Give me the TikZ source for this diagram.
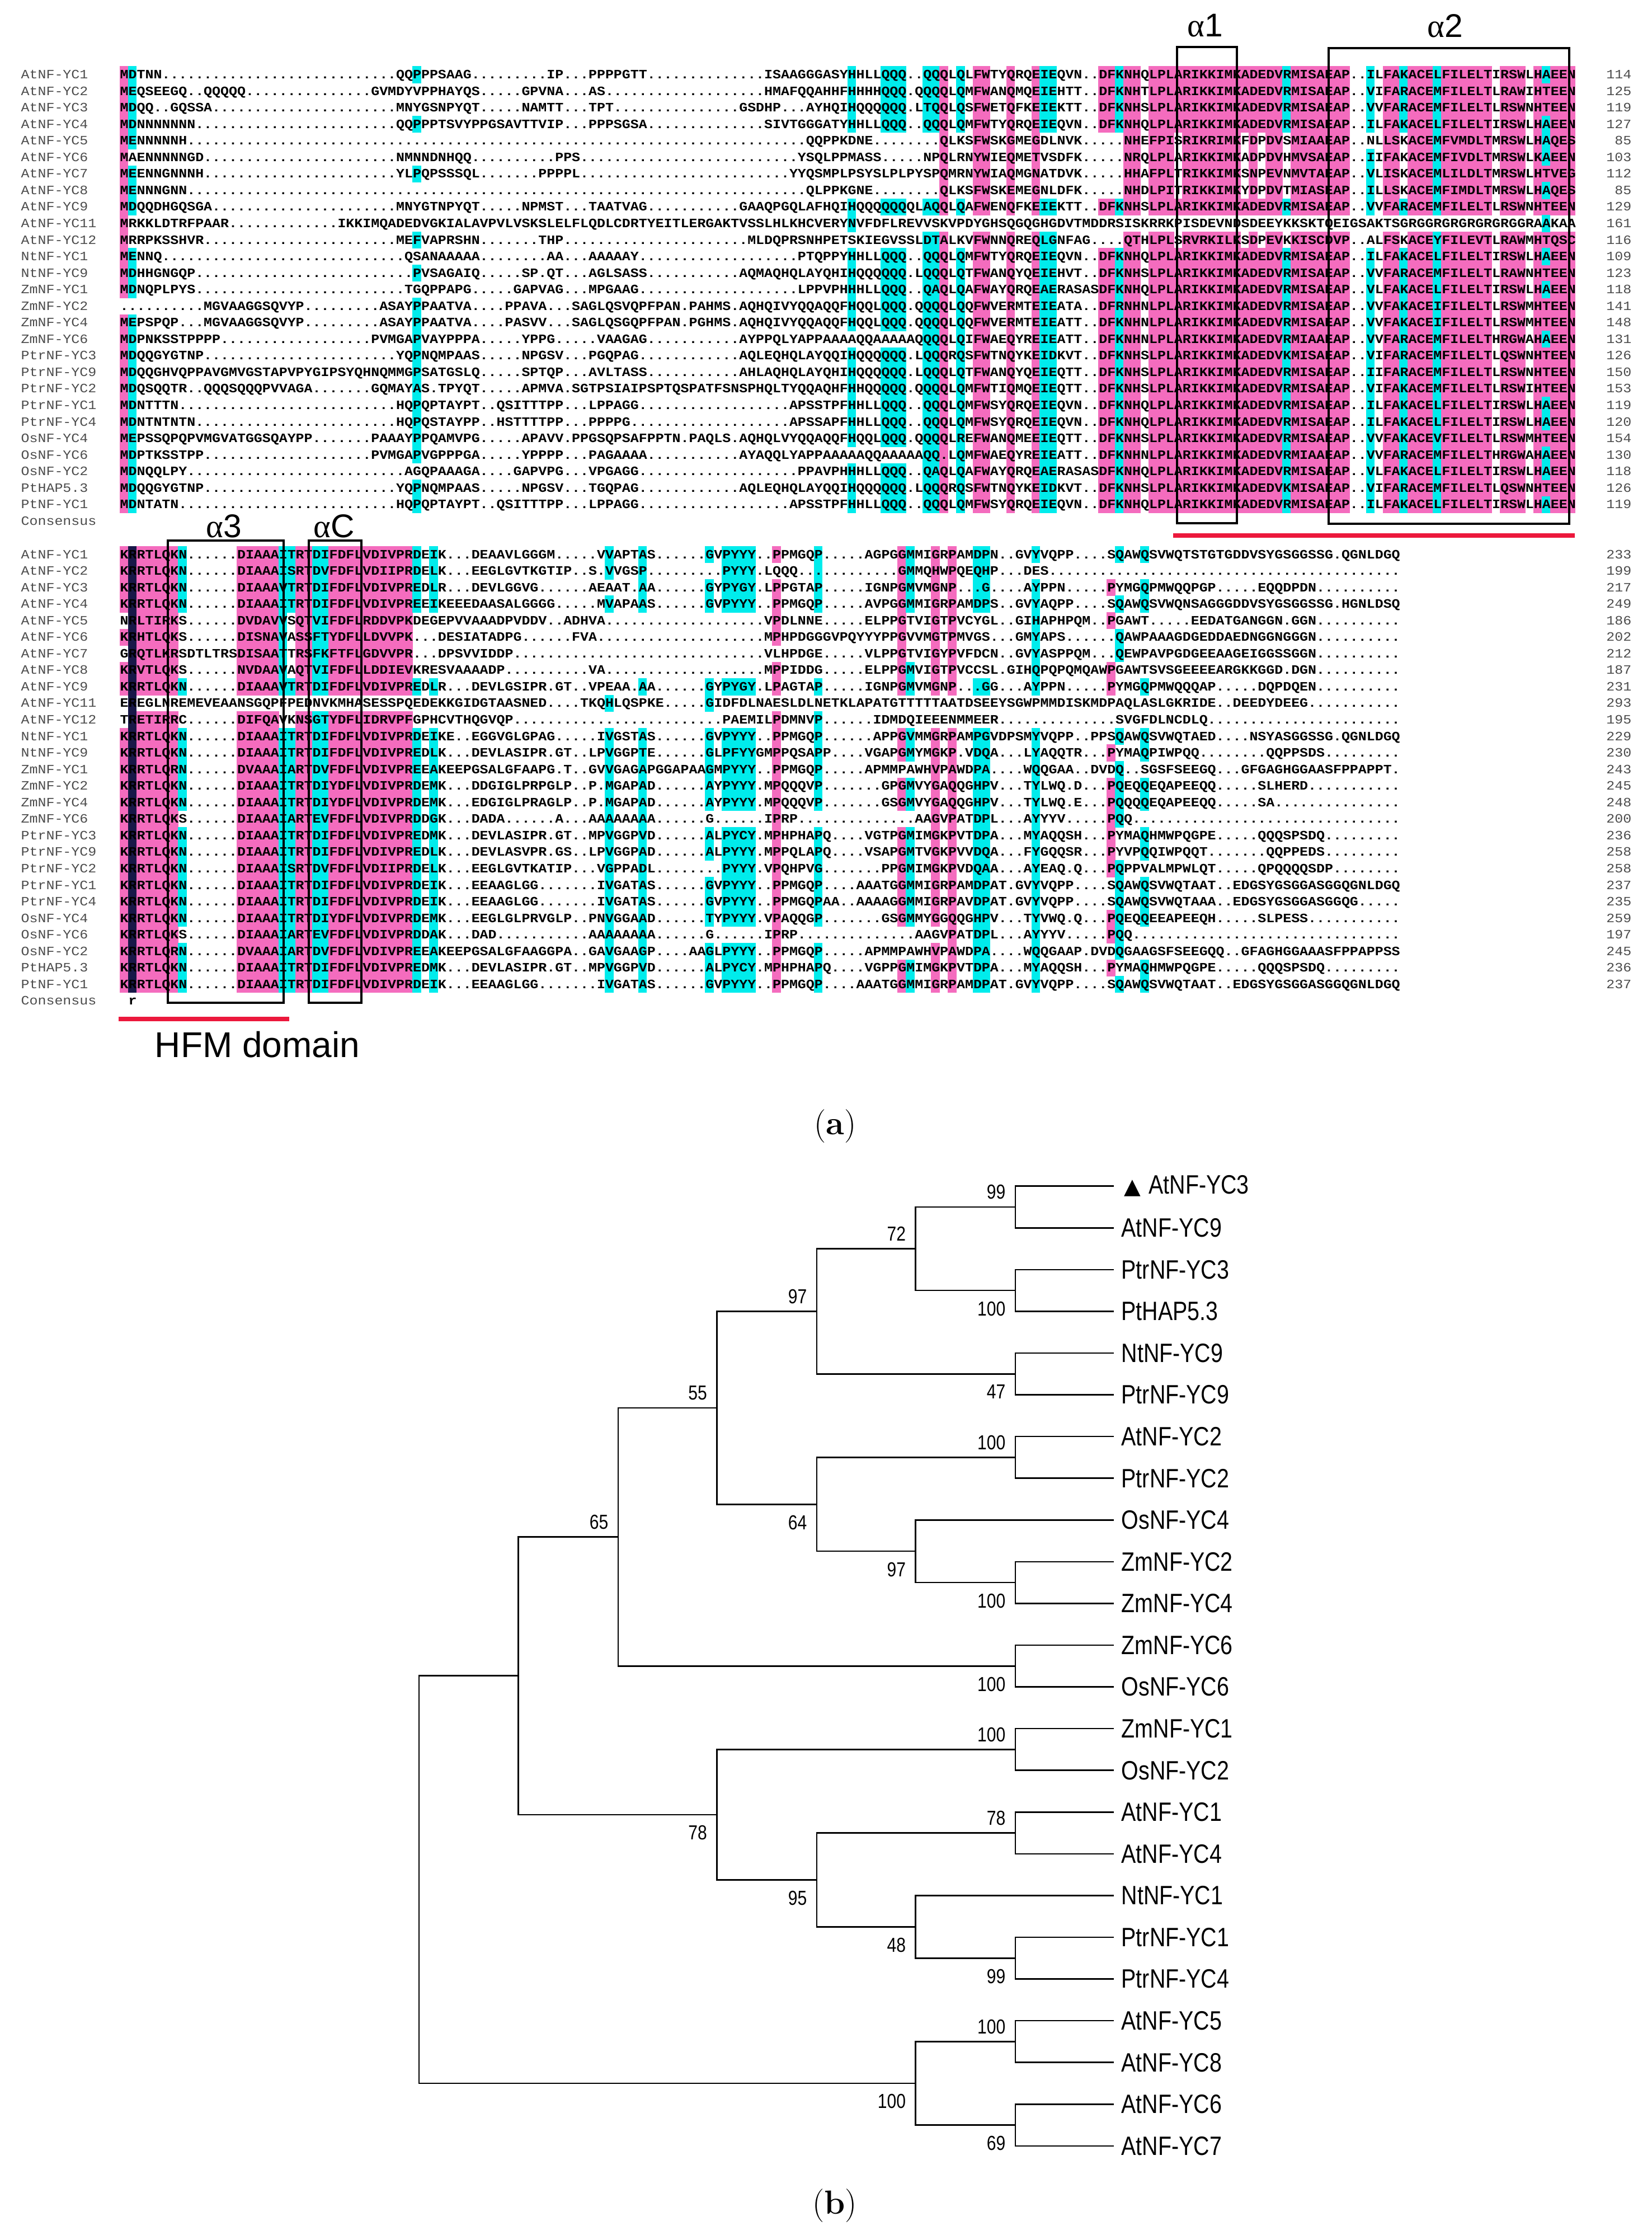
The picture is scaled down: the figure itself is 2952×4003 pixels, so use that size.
\documentclass[tikz,border=0pt]{standalone}
\usepackage{fontspec}
\usepackage{tikz}

\newfontfamily\seqfont[FakeStretch=1.091]{Liberation Mono}
\newfontfamily\labfont[FakeStretch=0.83]{Liberation Sans}
\newfontfamily\helvfont{Liberation Sans}
\newfontfamily\grkfont{Liberation Serif}
\newfontfamily\trifont{DejaVu Sans}

\definecolor{hlpink}{RGB}{244,108,190}
\definecolor{hlcyan}{RGB}{0,236,236}
\definecolor{hlnavy}{RGB}{24,24,72}
\definecolor{domred}{RGB}{236,24,60}

% one row of an alignment: pieces col/text, the gaps are filled with dots
\ExplSyntaxOn
\int_new:N \l_aln_col_int
\tl_new:N \l_aln_seq_tl
\cs_new_protected:Npn \aln_piece:w #1 / #2 \q_stop
  {
    \tl_put_right:Nx \l_aln_seq_tl
      { \prg_replicate:nn { \int_max:nn { 0 } { #1 - \l_aln_col_int } } { . } }
    \tl_put_right:Nn \l_aln_seq_tl { #2 }
    \int_set:Nn \l_aln_col_int { \int_max:nn { #1 } { \l_aln_col_int } + \str_count:n { #2 } }
  }
\NewDocumentCommand \AlnSeq { m m }
  {
    \tl_clear:N \l_aln_seq_tl
    \int_zero:N \l_aln_col_int
    \clist_map_inline:nn { #2 } { \aln_piece:w ##1 \q_stop }
    \tl_put_right:Nx \l_aln_seq_tl
      { \prg_replicate:nn { \int_max:nn { 0 } { #1 - \l_aln_col_int } } { . } }
    \tl_use:N \l_aln_seq_tl
  }
\ExplSyntaxOff

\def\colw{14.953}
\def\xseq{214}
\def\rowh{29.55}
\def\rowsA{0/8,10/26}
\def\rowsM{0/3,8/8,11/26}

\tikzset{
  seq text/.style={anchor=base west, inner sep=0pt, font=\seqfont\bfseries\fontsize{6.5pt}{7pt}\selectfont},
  seq name/.style={anchor=base west, inner sep=0pt, text=black!70, font=\seqfont\fontsize{6.5pt}{7pt}\selectfont},
  seq num/.style={anchor=base east, inner sep=0pt, text=black!70, font=\seqfont\fontsize{6.5pt}{7pt}\selectfont},
  helix box/.style={draw=black, line width=0.38mm},
  helix label/.style={inner sep=0pt, font=\helvfont\fontsize{16.7pt}{18pt}\selectfont},
  domain line/.style={draw=domred, line width=0.75mm},
  branch/.style={draw=black, line width=0.25mm},
  leaf/.style={anchor=west, inner xsep=1.3mm, inner ysep=0pt, font=\labfont\fontsize{13.5pt}{14pt}\selectfont},
  boot/.style={inner sep=0pt, font=\labfont\fontsize{10.3pt}{11pt}\selectfont},
  boot above/.style={boot, anchor=south east, xshift=-1.7mm, yshift=1.3mm},
  boot below/.style={boot, anchor=north east, xshift=-1.7mm, yshift=-1.9mm},
  panel tag/.style={inner sep=0pt, font=\fontsize{17pt}{19pt}\selectfont}
}

\def\HL#1#2#3#4#5{%
  \fill[#1] ({\xseq+#2*\colw-0.4},{\blocky+(#4-0.5)*\rowh-0.4}) rectangle ({\xseq+(#3+1)*\colw+0.4},{\blocky+(#5+0.5)*\rowh+0.4});
}
\def\HLr#1#2#3#4{%
  \edef\hlrows{#4}%
  \foreach \ra/\rb in \hlrows {\HL{#1}{#2}{#3}{\ra}{\rb}}
}
\def\Seq#1#2#3#4{%
  \node[seq name] (lab\blk#1) at (37,{\blocky+#1*\rowh+7}) {#2};
  \node[seq text] (seq\blk#1) at (\xseq,{\blocky+#1*\rowh+7}) {\AlnSeq{\ncols}{#3}};
  \node[seq num] (num\blk#1) at (2917,{\blocky+#1*\rowh+7}) {#4};
}
\def\Fork#1#2#3{\coordinate (#1) at (#2,{2119.7+#3*74.57});}
\def\Leaf#1#2#3{\node[leaf] (#1) at (1991,{2119.7+#2*74.57}) {#3};}

\begin{document}
\begin{tikzpicture}[x=0.1mm,y=-0.1mm]
\useasboundingbox (0,0) rectangle (2952,4003);

%% (a) first block
\def\blocky{133.5}\def\blk{A}\def\ncols{174}
\HLr{hlpink}{0}{0}{0/13,15/26}
\HLr{hlcyan}{1}{1}{0/4,6/8,11/13,15/26}
\HLr{hlcyan}{35}{35}{0/0,3/3,6/6,10/10,12/12,14/23,25/26}
\HLr{hlcyan}{87}{87}{0/3,8/9,11/15,17/22,24/26}
\HLr{hlcyan}{91}{93}{0/3,8/8,11/15,17/22,24/26}
\HLr{hlcyan}{96}{97}{0/3,8/8,10/26}
\HLr{hlpink}{98}{98}{\rowsA}
\HLr{hlcyan}{100}{100}{\rowsM}
\HLr{hlpink}{102}{103}{\rowsA}
\HLr{hlpink}{106}{106}{\rowsA}
\HLr{hlpink}{109}{109}{\rowsA}
\HLr{hlcyan}{110}{111}{0/3,8/8,10/26}
\HLr{hlpink}{117}{118}{\rowsM}
\HLr{hlcyan}{119}{119}{\rowsM}
\HLr{hlpink}{120}{121}{\rowsA}
\HLr{hlpink}{123}{125}{\rowsA}
\HLr{hlpink}{126}{126}{\rowsM}
\HLr{hlpink}{127}{133}{\rowsA}
\HLr{hlpink}{134}{134}{\rowsM}
\HLr{hlpink}{135}{135}{\rowsA}
\HLr{hlpink}{136}{136}{\rowsM}
\HLr{hlpink}{137}{138}{\rowsA}
\HLr{hlcyan}{139}{139}{\rowsM}
\HLr{hlpink}{140}{146}{\rowsA}
\HLr{hlcyan}{149}{149}{0/3,5/8,11/26}
\HLr{hlpink}{151}{152}{\rowsA}
\HLr{hlcyan}{153}{153}{\rowsM}
\HLr{hlpink}{154}{156}{\rowsA}
\HLr{hlcyan}{157}{157}{\rowsA}
\HLr{hlpink}{158}{163}{\rowsA}
\HLr{hlpink}{165}{167}{\rowsA}
\HLr{hlpink}{169}{173}{\rowsA}
\HLr{hlcyan}{170}{170}{0/0,3/5,7/7,9/9,11/11,13/13,16/16,20/21,23/24,26/26}

\Seq{0}{AtNF-YC1}{0/MDTNN, 33/QQPPPSAAG, 51/IP, 56/PPPPGTT, 77/ISAAGGGASYHHLLQQQ, 96/QQQLQLFWTYQRQEIEQVN, 117/DFKNHQLPLARIKKIMKADEDVRMISAEAP..ILFAKACELFILELTIRSWLHAEEN}{114}
\Seq{1}{AtNF-YC2}{0/MEQSEEGQ..QQQQQ, 30/GVMDYVPPHAYQS, 48/GPVNA, 56/AS, 77/HMAFQQAHHFHHHHQQQ.QQQQLQMFWANQMQEIEHTT, 117/DFKNHTLPLARIKKIMKADEDVRMISAEAP..VIFARACEMFILELTLRAWIHTEEN}{125}
\Seq{2}{AtNF-YC3}{0/MDQQ..GQSSA, 33/MNYGSNPYQT, 48/NAMTT, 56/TPT, 74/GSDHP...AYHQIHQQQQQQ.LTQQLQSFWETQFKEIEKTT, 117/DFKNHSLPLARIKKIMKADEDVRMISAEAP..VVFARACEMFILELTLRSWNHTEEN}{119}
\Seq{3}{AtNF-YC4}{0/MDNNNNNNN, 33/QQPPPTSVYPPGSAVTTVIP, 56/PPPSGSA, 77/SIVTGGGATYHHLLQQQ, 96/QQQLQMFWTYQRQEIEQVN, 117/DFKNHQLPLARIKKIMKADEDVRMISAEAP..ILFAKACELFILELTIRSWLHAEEN}{127}
\Seq{4}{AtNF-YC5}{0/MENNNNNH, 82/QQPPKDNE, 98/QLKSFWSKGMEGDLNVK, 119/.NHEFPISRIKRIMKFDPDVSMIAAEAP..NLLSKACEMFVMDLTMRSWLHAQES}{85}
\Seq{5}{AtNF-YC6}{0/MAENNNNNGD, 33/NMNNDNHQQ, 52/PPS, 81/YSQLPPMASS, 96/NPQLRNYWIEQMETVSDFK, 119/.NRQLPLARIKKIMKADPDVHMVSAEAP..IIFAKACEMFIVDLTMRSWLKAEEN}{103}
\Seq{6}{AtNF-YC7}{0/MEENNGNNNH, 33/YLPQPSSSQL, 50/PPPPL, 80/YYQSMPLPSYSLPLPYSP, 98/QMRNYWIAQMGNATDVK, 119/.HHAFPLTRIKKIMKSNPEVNMVTAEAP..VLISKACEMLILDLTMRSWLHTVEG}{112}
\Seq{7}{AtNF-YC8}{0/MENNNGNN, 82/QLPPKGNE, 98/QLKSFWSKEMEGNLDFK, 119/.NHDLPITRIKKIMKYDPDVTMIASEAP..ILLSKACEMFIMDLTMRSWLHAQES}{85}
\Seq{8}{AtNF-YC9}{0/MDQQDHGQSGA, 33/MNYGTNPYQT, 48/NPMST, 56/TAATVAG, 74/GAAQPGQLAFHQIHQQQQQQQLAQQLQAFWENQFKEIEKTT, 117/DFKNHSLPLARIKKIMKADEDVRMISAEAP..VVFARACEMFILELTLRSWNHTEEN}{129}
\Seq{9}{AtNF-YC11}{0/MRKKLDTRFPAAR, 26/IKKIMQADEDVGKIALAVPVLVSKSLELFLQDLCDRTYEITLERGAKTVSSLHLKHCVERYNVFDFLREVVSKVPDYGHSQGQGHGDVTMDDR, 119/SISKRRKPISDEVNDSDEEYKKSKTQEIGSAKTSGRGGRGRGRGRGRGGRAAKAA}{161}
\Seq{10}{AtNF-YC12}{0/MRRPKSSHVR, 33/MEFVAPRSHN, 50/THP, 75/MLDQPRSNHPETSKIEGVSSLDTALKVFWNNQREQLGNFAG, 119/.QTHLPLSRVRKILKSDPEVKKISCDVP..ALFSKACEYFILEVTLRAWMHTQSC}{116}
\Seq{11}{NtNF-YC1}{0/MENNQ, 34/QSANAAAAA, 51/AA, 56/AAAAAY, 81/PTQPPYHHLLQQQ..QQQLQMFWTYQRQEIEQVN, 117/DFKNHQLPLARIKKIMKADEDVRMISAEAP..ILFAKACELFILELTIRSWLHAEEN}{109}
\Seq{12}{NtNF-YC9}{0/MDHHGNGQP, 35/PVSAGAIQ, 48/SP.QT, 56/AGLSASS, 74/AQMAQHQLAYQHIHQQQQQQ.LQQQLQTFWANQYQEIEHVT, 117/DFKNHSLPLARIKKIMKADEDVRMISAEAP..VVFARACEMFILELTLRAWNHTEEN}{123}
\Seq{13}{ZmNF-YC1}{0/MDNQPLPYS, 34/TGQPPAPG, 47/GAPVAG, 56/MPGAAG, 81/LPPVPHHHLLQQQ..QAQLQAFWAYQRQEAERASASDFKNHQLPLARIKKIMKADEDVRMISAEAP..VLFAKACELFILELTIRSWLHAEEN}{118}
\Seq{14}{ZmNF-YC2}{10/MGVAAGGSQVYP, 31/ASAYPPAATVA, 46/PPAVA, 54/SAGLQSVQPFPAN.PAHMS.AQHQIVYQQAQQFHQQLQQQ.QQQQLQQFWVERMTEIEATA, 117/DFRNHNLPLARIKKIMKADEDVRMISAEAP..VVFAKACEIFILELTLRSWMHTEEN}{141}
\Seq{15}{ZmNF-YC4}{0/MEPSPQP, 10/MGVAAGGSQVYP, 31/ASAYPPAATVA, 46/PASVV, 54/SAGLQSGQPFPAN.PGHMS.AQHQIVYQQAQQFHQQLQQQ.QQQQLQQFWVERMTEIEATT, 117/DFKNHNLPLARIKKIMKADEDVRMISAEAP..VVFAKACEIFILELTLRSWMHTEEN}{148}
\Seq{16}{ZmNF-YC6}{0/MDPNKSSTPPPP, 30/PVMGAPVAYPPPA, 48/YPPG, 57/VAAGAG, 74/AYPPQLYAPPAAAAQQAAAAAQQQQLQIFWAEQYREIEATT, 117/DFKNHNLPLARIKKIMKADEDVRMIAAEAP..VVFARACEMFILELTHRGWAHAEEN}{131}
\Seq{17}{PtrNF-YC3}{0/MDQQGYGTNP, 33/YQPNQMPAAS, 48/NPGSV, 56/PGQPAG, 74/AQLEQHQLAYQQIHQQQQQQ.LQQQRQSFWTNQYKEIDKVT, 117/DFKNHSLPLARIKKIMKADEDVKMISAEAP..VIFARACEMFILELTLQSWNHTEEN}{126}
\Seq{18}{PtrNF-YC9}{0/MDQQGHVQPPAVGMVGSTAPVPYGIPSYQHNQMMGPSATGSLQ, 48/SPTQP, 56/AVLTASS, 74/AHLAQHQLAYQHIHQQQQQQ.LQQQLQTFWANQYQEIEQTT, 117/DFKNHSLPLARIKKIMKADEDVRMISAEAP..IIFARACEMFILELTLRSWNHTEEN}{150}
\Seq{19}{PtrNF-YC2}{0/MDQSQQTR..QQQSQQQPVVAGA, 30/GQMAYAS.TPYQT, 48/APMVA, 54/SGTPSIAIPSPTQSPATFSNSPHQLTYQQAQHFHHQQQQQ.QQQQLQMFWTIQMQEIEQTT, 117/DFKNHSLPLARIKKIMKADEDVRMISAEAP..VIFAKACEMFILELTLRSWIHTEEN}{153}
\Seq{20}{PtrNF-YC1}{0/MDNTTTN, 33/HQPQPTAYPT..QSITTTPP, 56/LPPAGG, 80/APSSTPFHHLLQQQ..QQQLQMFWSYQRQEIEQVN, 117/DFKNHQLPLARIKKIMKADEDVRMISAEAP..ILFAKACELFILELTIRSWLHAEEN}{119}
\Seq{21}{PtrNF-YC4}{0/MDNTNTNTN, 33/HQPQSTAYPP..HSTTTTPP, 56/PPPPG, 80/APSSAPFHHLLQQQ..QQQLQMFWSYQRQEIEQVN, 117/DFKNHQLPLARIKKIMKADEDVRMISAEAP..ILFAKACELFILELTIRSWLHAEEN}{120}
\Seq{22}{OsNF-YC4}{0/MEPSSQPQPVMGVATGGSQAYPP, 30/PAAAYPPQAMVPG, 48/APAVV, 54/PPGSQPSAFPPTN.PAQLS.AQHQLVYQQAQQFHQQLQQQ.QQQQLREFWANQMEEIEQTT, 117/DFKNHSLPLARIKKIMKADEDVRMISAEAP..VVFAKACEVFILELTLRSWMHTEEN}{154}
\Seq{23}{OsNF-YC6}{0/MDPTKSSTPP, 30/PVMGAPVGPPPGA, 48/YPPPP, 56/PAGAAAA, 74/AYAQQLYAPPAAAAAQQAAAAAQQ.LQMFWAEQYREIEATT, 117/DFKNHNLPLARIKKIMKADEDVRMIAAEAP..VVFARACEMFILELTHRGWAHAEEN}{130}
\Seq{24}{OsNF-YC2}{0/MDNQQLPY, 34/AGQPAAAGA, 47/GAPVPG, 56/VPGAGG, 81/PPAVPHHHLLQQQ..QAQLQAFWAYQRQEAERASASDFKNHQLPLARIKKIMKADEDVRMISAEAP..VLFAKACELFILELTIRSWLHAEEN}{118}
\Seq{25}{PtHAP5.3}{0/MDQQGYGTNP, 33/YQPNQMPAAS, 48/NPGSV, 56/TGQPAG, 74/AQLEQHQLAYQQIHQQQQQQ.LQQQRQSFWTNQYKEIDKVT, 117/DFKNHSLPLARIKKIMKADEDVKMISAEAP..VIFARACEMFILELTLQSWNHTEEN}{126}
\Seq{26}{PtNF-YC1}{0/MDNTATN, 33/HQPQPTAYPT..QSITTTPP, 56/LPPAGG, 80/APSSTPFHHLLQQQ..QQQLQMFWSYQRQEIEQVN, 117/DFKNHQLPLARIKKIMKADEDVRMISAEAP..ILFAKACELFILELTIRSWLHAEEN}{119}
\node[seq name] (labA27) at (37,{\blocky+27*\rowh+7}) {Consensus};

\draw[helix box] (2104,84) rectangle (2211,935);
\draw[helix box] (2375,86) rectangle (2805,936);
\node[helix label] (alpha1) at (2154,46) {{\grkfont α}1};
\node[helix label] (alpha2) at (2583,46) {{\grkfont α}2};
\draw[domain line] (2097,957) -- (2815,957);

%% (a) second block
\def\blocky{991}\def\blk{B}\def\ncols{153}
\HLr{hlpink}{0}{0}{0/3,5/5,7/8,11/26}
\HLr{hlnavy}{1}{1}{0/26}
\HLr{hlpink}{2}{6}{\rowsA}
\HLr{hlcyan}{7}{7}{0/3,8/8,11/15,17/22,24/26}
\HLr{hlpink}{14}{18}{\rowsA}
\HLr{hlcyan}{19}{19}{0/8,11/26}
\HLr{hlcyan}{20}{20}{\rowsM}
\HLr{hlpink}{21}{22}{\rowsA}
\HLr{hlcyan}{23}{24}{\rowsA}
\HLr{hlpink}{25}{34}{\rowsA}
\HLr{hlcyan}{35}{35}{\rowsM}
\HLr{hlcyan}{37}{37}{\rowsM}
\HLr{hlcyan}{58}{58}{0/1,3/3,9/9,11/26}
\HLr{hlcyan}{62}{62}{\rowsM}
\HLr{hlcyan}{70}{70}{0/0,2/3,8/9,11/15,17/18,20/22,24/26}
\HLr{hlcyan}{72}{75}{0/3,8/8,11/15,17/22,24/26}
\HLr{hlpink}{78}{78}{0/0,2/5,7/8,10/26}
\HLr{hlcyan}{83}{83}{0/3,8/8,10/15,17/22,24/26}
\HLr{hlpink}{93}{93}{0/8,11/12,14/15,17/22,25/26}
\HLr{hlcyan}{94}{94}{0/3,7/8,11/12,14/15,17/22,25/26}
\HLr{hlpink}{97}{97}{0/8,11/22,24/26}
\HLr{hlpink}{99}{99}{0/8,11/26}
\HLr{hlcyan}{102}{103}{\rowsM}
\HLr{hlcyan}{109}{109}{0/0,2/8,11/26}
\HLr{hlpink}{118}{118}{2/2,4/4,7/8,12/12,14/19,22/23,25/25}
\HLr{hlcyan}{119}{119}{0/0,3/3,5/6,11/11,13/16,19/24,26/26}
\HLr{hlcyan}{122}{122}{0/0,2/3,8/8,11/12,14/15,17/18,20/22,25/26}

\Seq{0}{AtNF-YC1}{0/KRRTLQKN, 14/DIAAAITRTDIFDFLVDIVPRDEIK, 42/DEAAVLGGGM, 57/VVAPTAS, 70/GVPYYY, 78/PPMGQP, 89/AGPGGMMIGRPAMDPN, 107/GVYVQPP, 118/SQAWQSVWQTSTGTGDDVSYGSGGSSG.QGNLDGQ}{233}
\Seq{1}{AtNF-YC2}{0/KRRTLQKN, 14/DIAAAISRTDVFDFLVDIIPRDELK, 42/EEGLGVTKGTIP, 56/S, 58/VVGSP, 72/PYYY, 77/LQQQ, 93/GMMQHWPQEQHP, 108/DES}{199}
\Seq{2}{AtNF-YC3}{0/KRRTLQKN, 14/DIAAAVTRTDIFDFLVDIVPREDLR, 42/DEVLGGVG, 56/AEAAT, 62/AA, 70/GYPYGY, 77/LPPGTAP, 89/IGNPGMVMGNP, 103/G, 108/AYPPN, 118/PYMGQPMWQQPGP, 136/EQQDPDN}{217}
\Seq{3}{AtNF-YC4}{0/KRRTLQKN, 14/DIAAAITRTDIFDFLVDIVPREEIKEEEDAASALGGGG, 57/MVAPAAS, 70/GVPYYY, 78/PPMGQP, 89/AVPGGMMIGRPAMDPS, 107/GVYAQPP, 118/SQAWQSVWQNSAGGGDDVSYGSGGSSG.HGNLDSQ}{249}
\Seq{4}{AtNF-YC5}{0/NRLTIRKS, 14/DVDAVVSQTVIFDFLRDDVPKDEGEPVVAAADPVDDV, 53/ADHVA, 77/VPDLNNE, 89/ELPPGTVIGTPVCYGL, 107/GIHAPHPQM, 118/PGAWT, 128/EEDATGANGGN, 140/GGN}{186}
\Seq{5}{AtNF-YC6}{0/KRHTLQKS, 14/DISNAVASSFTYDFLLDVVPK, 38/DESIATADPG, 54/FVA, 77/MPHPDGGGVPQYYYPPGVVMGTPMVGS, 107/GMYAPS, 119/QAWPAAAGDGEDDAEDNGGNGGGN}{202}
\Seq{6}{AtNF-YC7}{0/GRQTLKRSDTLTRSDISAATTRSFKFTFLGDVVPR, 38/DPSVVIDDP, 77/VLHPDGE, 89/VLPPGTVIGYPVFDCN, 107/GVYASPPQM, 119/QEWPAVPGDGEEAAGEIGGSSGGN}{212}
\Seq{7}{AtNF-YC8}{0/KRVTLQKS, 14/NVDAAVAQTVIFDFLLDDIEVKRESVAAAADP, 56/VA, 77/MPPIDDG, 89/ELPPGMVIGTPVCCSL, 106/GIHQPQPQMQAWP, 119/GAWTSVSGEEEEARGKKGGD.DGN}{187}
\Seq{8}{AtNF-YC9}{0/KRRTLQKN, 14/DIAAAVTRTDIFDFLVDIVPREDLR, 42/DEVLGSIPR.GT, 56/VPEAA.AA, 70/GYPYGY, 77/LPAGTAP, 89/IGNPGMVMGNP, 103/GG, 108/AYPPN, 118/PYMGQPMWQQQAP, 136/DQPDQEN}{231}
\Seq{9}{AtNF-YC11}{0/EREGLNREMEVEAANSGQPFPEDNVKMHASESSPQEDEKKGIDGTAASNED, 55/TKQHLQSPKE, 70/GIDFDLNAESLDLNETKLAPATGTTTTTAATDSEEYSGWPMMDISKMDP, 119/AQLASLGKRIDE..DEEDYDEEG}{293}
\Seq{10}{AtNF-YC12}{0/TRETIRRC, 14/DIFQAVKNSGTYDFLIDRVPFGPHCVTHQGVQP, 72/PAEMILPDMNVP, 90/IDMDQIEEENMMEER, 119/SVGFDLNCDLQ}{195}
\Seq{11}{NtNF-YC1}{0/KRRTLQKN, 14/DIAAAITRTDIFDFLVDIVPRDEIKE, 42/EGGVGLGPAG, 57/IVGSTAS, 70/GVPYYY, 78/PPMGQP, 90/APPGVMMGRPAMPGVDPSMYVQPP, 116/PPSQAWQSVWQTAED....NSYASGGSSG.QGNLDGQ}{229}
\Seq{12}{NtNF-YC9}{0/KRRTLQKN, 14/DIAAAITRTDIFDFLVDIVPREDLK, 42/DEVLASIPR.GT, 56/LPVGGPTE, 70/GLPFYYGMPPQSAPP, 89/VGAPGMYMGKP.VDQA, 108/LYAQQTR, 118/PYMAQPIWPQQ, 137/QQPPSDS}{230}
\Seq{13}{ZmNF-YC1}{0/KRRTLQRN, 14/DVAAAIARTDVFDFLVDIVPREEAKEEPGSALGFAAPG.T, 56/GVVGAGAPGGAPAAGMPYYY, 78/PPMGQP, 89/APMMPAWHVPAWDPA, 108/WQQGAA, 116/DVDQ..SGSFSEEGQ...GFGAGHGGAASFPPAPPT}{243}
\Seq{14}{ZmNF-YC2}{0/KRRTLQKN, 14/DIAAAITRTDIYDFLVDIVPRDEMK, 42/DDGIGLPRPGLP, 56/P, 58/MGAPAD, 70/AYPYYY, 77/MPQQQVP, 91/GPGMVYGAQQGHPV, 108/TYLWQ.D, 118/PQEQQEQAPEEQQ, 136/SLHERD}{245}
\Seq{15}{ZmNF-YC4}{0/KRRTLQKN, 14/DIAAAITRTDIYDFLVDIVPRDEMK, 42/EDGIGLPRAGLP, 56/P, 58/MGAPAD, 70/AYPYYY, 77/MPQQQVP, 91/GSGMVYGAQQGHPV, 108/TYLWQ.E, 118/PQQQQEQAPEEQQ, 136/SA}{248}
\Seq{16}{ZmNF-YC6}{0/KRRTLQKS, 14/DIAAAIARTEVFDFLVDIVPRDDGK, 42/DADA, 52/A, 56/AAAAAAAA, 70/G, 77/IPRP, 95/AAGVPATDPL, 108/AYYYV, 118/PQQ}{200}
\Seq{17}{PtrNF-YC3}{0/KRRTLQKN, 14/DIAAAITRTDIFDFLVDIVPREDMK, 42/DEVLASIPR.GT, 56/MPVGGPVD, 70/ALPYCY, 77/MPHPHAPQ, 89/VGTPGMIMGKPVTDPA, 108/MYAQQSH, 118/PYMAQHMWPQGPE, 136/QQQSPSDQ}{236}
\Seq{18}{PtrNF-YC9}{0/KRRTLQKN, 14/DIAAAITRTDIFDFLVDIVPREDLK, 42/DEVLASVPR.GS, 56/LPVGGPAD, 70/ALPYYY, 77/MPPQLAPQ, 89/VSAPGMTVGKPVVDQA, 108/FYGQQSR, 118/PYVPQQIWPQQT, 137/QQPPEDS}{258}
\Seq{19}{PtrNF-YC2}{0/KRRTLQKN, 14/DIAAAISRTDVFDFLVDIIPRDELK, 42/EEGLGVTKATIP, 57/VGPPADL, 72/PYYY, 77/VPQHPVG, 91/PPGMIMGKPVDQAA, 108/AYEAQ.Q, 118/PQPPVALMPWLQT, 136/QPQQQQSDP}{258}
\Seq{20}{PtrNF-YC1}{0/KRRTLQKN, 14/DIAAAITRTDIFDFLVDIVPRDEIK, 42/EEAAGLGG, 57/IVGATAS, 70/GVPYYY, 78/PPMGQP, 88/AAATGGMMIGRPAMDPAT.GVYVQPP, 118/SQAWQSVWQTAAT..EDGSYGSGGASGGQGNLDGQ}{237}
\Seq{21}{PtrNF-YC4}{0/KRRTLQKN, 14/DIAAAITRTDIFDFLVDIVPRDEIK, 42/EEAAGLGG, 57/IVGATAS, 70/GVPYYY, 78/PPMGQPAA, 88/AAAAGGMMIGRPAVDPAT.GVYVQPP, 118/SQAWQSVWQTAAA..EDGSYGSGGASGGQG}{235}
\Seq{22}{OsNF-YC4}{0/KRRTLQKN, 14/DIAAAITRTDIYDFLVDIVPRDEMK, 42/EEGLGLPRVGLP, 56/PNVGGAAD, 70/TYPYYY, 77/VPAQQGP, 91/GSGMMYGGQQGHPV, 108/TYVWQ.Q, 118/PQEQQEEAPEEQH, 136/SLPESS}{259}
\Seq{23}{OsNF-YC6}{0/KRRTLQKS, 14/DIAAAIARTEVFDFLVDIVPRDDAK, 42/DAD, 56/AAAAAAAA, 70/G, 77/IPRP, 95/AAGVPATDPL, 108/AYYYV, 118/PQQ}{197}
\Seq{24}{OsNF-YC2}{0/KRRTLQRN, 14/DVAAAIARTDVFDFLVDIVPREEAKEEPGSALGFAAGGPA, 56/GAVGAAGP, 68/AAGLPYYY, 78/PPMGQP, 89/APMMPAWHVPAWDPA, 108/WQQGAAP.DVDQGAAGSFSEEGQQ..GFAGHGGAAASFPPAPPSS}{245}
\Seq{25}{PtHAP5.3}{0/KRRTLQKN, 14/DIAAAITRTDIFDFLVDIVPREDMK, 42/DEVLASIPR.GT, 56/MPVGGPVD, 70/ALPYCY, 77/MPHPHAPQ, 89/VGPPGMIMGKPVTDPA, 108/MYAQQSH, 118/PYMAQHMWPQGPE, 136/QQQSPSDQ}{236}
\Seq{26}{PtNF-YC1}{0/KRRTLQKN, 14/DIAAAITRTDIFDFLVDIVPRDEIK, 42/EEAAGLGG, 57/IVGATAS, 70/GVPYYY, 78/PPMGQP, 88/AAATGGMMIGRPAMDPAT.GVYVQPP, 118/SQAWQSVWQTAAT..EDGSYGSGGASGGQGNLDGQ}{237}
\node[seq name] (labB27) at (37,{\blocky+27*\rowh+7}) {Consensus};
\node[seq text] (consB) at ({\xseq+\colw},{\blocky+27*\rowh+7}) {r};

\draw[helix box] (300,966) rectangle (507,1792);
\draw[helix box] (552,966) rectangle (646,1792);
\node[helix label] (alpha3) at (400,940) {{\grkfont α}3};
\node[helix label] (alphaC) at (597,940) {{\grkfont α}C};
\draw[domain line] (212,1821) -- (517,1821);
\node[inner sep=0pt, font=\helvfont\fontsize{18.2pt}{20pt}\selectfont] (hfm) at (460,1867) {HFM domain};

\node[panel tag] (taga) at (1493,2013) {(\textbf{a})};

%% (b) tree
\node[leaf, inner xsep=1.8mm] (AtYC3) at (1991,2119.7) {{\trifont\fontsize{11pt}{11pt}\selectfont ▲}\hspace{1.4mm}AtNF-YC3};
\Leaf{AtYC9}{1}{AtNF-YC9}
\Leaf{PtrYC3}{2}{PtrNF-YC3}
\Leaf{PtHAP}{3}{PtHAP5.3}
\Leaf{NtYC9}{4}{NtNF-YC9}
\Leaf{PtrYC9}{5}{PtrNF-YC9}
\Leaf{AtYC2}{6}{AtNF-YC2}
\Leaf{PtrYC2}{7}{PtrNF-YC2}
\Leaf{OsYC4}{8}{OsNF-YC4}
\Leaf{ZmYC2}{9}{ZmNF-YC2}
\Leaf{ZmYC4}{10}{ZmNF-YC4}
\Leaf{ZmYC6}{11}{ZmNF-YC6}
\Leaf{OsYC6}{12}{OsNF-YC6}
\Leaf{ZmYC1}{13}{ZmNF-YC1}
\Leaf{OsYC2}{14}{OsNF-YC2}
\Leaf{AtYC1}{15}{AtNF-YC1}
\Leaf{AtYC4}{16}{AtNF-YC4}
\Leaf{NtYC1}{17}{NtNF-YC1}
\Leaf{PtrYC1}{18}{PtrNF-YC1}
\Leaf{PtrYC4}{19}{PtrNF-YC4}
\Leaf{AtYC5}{20}{AtNF-YC5}
\Leaf{AtYC8}{21}{AtNF-YC8}
\Leaf{AtYC6}{22}{AtNF-YC6}
\Leaf{AtYC7}{23}{AtNF-YC7}

\Fork{root}{749}{16.617}
\Fork{n1}{926.5}{11.734}
\Fork{n65}{1105}{8.406}
\Fork{n55}{1281.6}{5.3125}
\Fork{n97a}{1460}{3}
\Fork{n72}{1636.7}{1.5}
\Fork{n99a}{1815}{0.5}
\Fork{n100a}{1815}{2.5}
\Fork{n47}{1815}{4.5}
\Fork{n64}{1460}{7.625}
\Fork{n100b}{1815}{6.5}
\Fork{n97b}{1636.7}{8.75}
\Fork{n100c}{1815}{9.5}
\Fork{n100d}{1815}{11.5}
\Fork{n78a}{1281.6}{15.0625}
\Fork{n100e}{1815}{13.5}
\Fork{n95}{1460}{16.625}
\Fork{n78b}{1815}{15.5}
\Fork{n48}{1636.7}{17.75}
\Fork{n99b}{1815}{18.5}
\Fork{n100g}{1636.7}{21.5}
\Fork{n100f}{1815}{20.5}
\Fork{n69}{1815}{22.5}

\foreach \p/\c in {root/n1, root/n100g, n1/n65, n1/n78a, n65/n55, n65/n100d,
    n55/n97a, n55/n64, n97a/n72, n97a/n47, n72/n99a, n72/n100a, n64/n100b,
    n64/n97b, n97b/n100c, n78a/n100e, n78a/n95, n95/n78b, n95/n48, n48/n99b,
    n100g/n100f, n100g/n69}
  \draw[branch] (\p) |- (\c);
\foreach \p/\c in {n99a/AtYC3, n99a/AtYC9, n100a/PtrYC3, n100a/PtHAP, n47/NtYC9,
    n47/PtrYC9, n100b/AtYC2, n100b/PtrYC2, n97b/OsYC4, n100c/ZmYC2, n100c/ZmYC4,
    n100d/ZmYC6, n100d/OsYC6, n100e/ZmYC1, n100e/OsYC2, n78b/AtYC1, n78b/AtYC4,
    n48/NtYC1, n99b/PtrYC1, n99b/PtrYC4, n100f/AtYC5, n100f/AtYC8, n69/AtYC6, n69/AtYC7}
  \draw[branch] (\p) |- (\c.west);

\foreach \n/\v in {n99a/99, n72/72, n97a/97, n100b/100, n55/55, n65/65, n100e/100, n78b/78, n100f/100}
  \node[boot above] (bs\n) at (\n) {\v};
\foreach \n/\v in {n100a/100, n47/47, n97b/97, n100c/100, n64/64, n100d/100, n78a/78, n95/95, n48/48, n99b/99, n100g/100, n69/69}
  \node[boot below] (bs\n) at (\n) {\v};

\node[panel tag] (tagb) at (1492,3942) {(\textbf{b})};
\end{tikzpicture}
\end{document}
